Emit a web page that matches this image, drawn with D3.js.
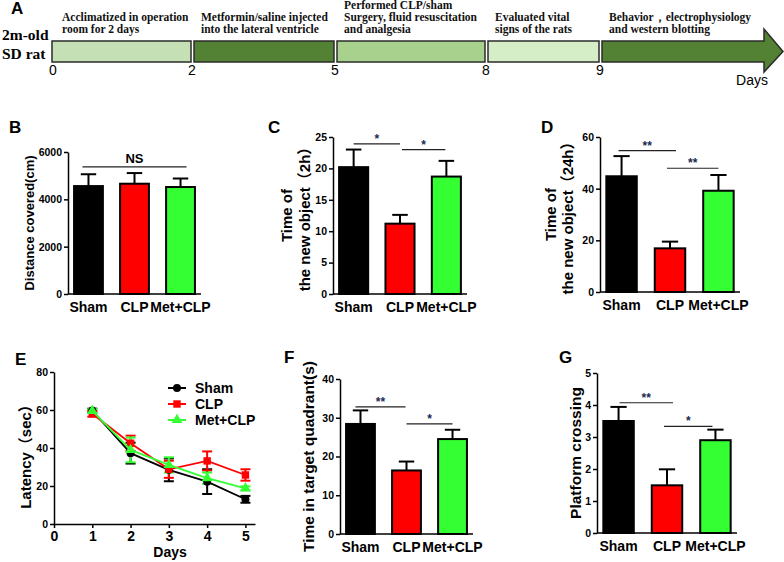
<!DOCTYPE html>
<html>
<head>
<meta charset="utf-8">
<script src="https://cdn.jsdelivr.net/npm/d3@7"></script>
<style>
  body { margin: 0; background: #fff; }
  svg text { font-family: "Liberation Sans", Arial, "Noto Sans CJK SC", sans-serif; font-weight: bold; }
  svg text.serif { font-family: "Liberation Serif", "Times New Roman", serif; }
  svg text.plain { font-weight: normal; }
</style>
</head>
<body>
<svg width="784" height="562"></svg>
<script>
// ---- data ----
const groups = ['Sham', 'CLP', 'Met+CLP'];
const groupColors = ['#000000', '#ff0000', '#33ff33'];

const distanceMean = [4560, 4660, 4520];
const distanceSem = [500, 450, 360];

const object2hMean = [20.2, 11.2, 18.7];
const object2hSem = [2.8, 1.4, 2.5];

const object24hMean = [44.8, 16.9, 39.2];
const object24hSem = [7.8, 2.6, 6.1];

const quadrantMean = [28.4, 16.4, 24.5];
const quadrantSem = [3.5, 2.3, 2.4];

const crossingMean = [3.5, 1.49, 2.9];
const crossingSem = [0.44, 0.5, 0.33];

const days = [1, 2, 3, 4, 5];
const latencySham = [59.7, 37.3, 28.5, 22.3, 13.0];
const latencyShamSem = [1.0, 5.5, 6.0, 6.5, 1.8];
const latencyCLP = [58.0, 42.5, 28.8, 33.2, 25.8];
const latencyCLPSem = [1.5, 4.0, 4.5, 5.0, 3.0];
const latencyMet = [59.5, 39.0, 31.1, 24.1, 18.8];
const latencyMetSem = [1.0, 6.5, 4.0, 3.0, 1.0];

const timelineDays = [0, 2, 5, 8, 9];
const stepLabels = [
  ['Acclimatized in operation', 'room for 2 days'],
  ['Metformin/saline injected', 'into the lateral ventricle'],
  ['Performed CLP/sham', 'Surgery, fluid resuscitation', 'and analgesia'],
  ['Evaluated vital', 'signs of the rats'],
  ['Behavior，electrophysiology', 'and western blotting']
];
const stepColors = ['#c5e0b4', '#548235', '#a9d18e', '#d6eec8', '#548235'];

const svg = d3.select('svg');

// ---- panel A: timeline ----
const tx = d3.scaleLinear().domain([0, 2, 5, 8, 9, 10]).range([52, 191, 334, 485, 599, 764]);
const boxTop = 41, boxBottom = 62;
const tl = svg.append('g');

stepLabels.forEach((lines, i) => {
  const start = timelineDays[i];
  const end = i < timelineDays.length - 1 ? timelineDays[i + 1] : 10;
  const x0 = tx(start) + (i > 0 ? 3 : 0);
  const x1 = tx(end);
  if (i < timelineDays.length - 1) {
    tl.append('rect')
      .attr('x', x0).attr('y', boxTop)
      .attr('width', x1 - x0).attr('height', boxBottom - boxTop)
      .attr('fill', stepColors[i]).attr('stroke', '#2b2b2b').attr('stroke-width', 1.5);
  } else {
    const mid = (boxTop + boxBottom) / 2;
    tl.append('path')
      .attr('d', `M${x0},${boxTop}H${x1}V29L783,${mid}L${x1},72V${boxBottom}H${x0}Z`)
      .attr('fill', stepColors[i]).attr('stroke', '#2b2b2b').attr('stroke-width', 1.5);
  }
  const n = lines.length;
  lines.forEach((t, j) => {
    tl.append('text').attr('class', 'serif')
      .attr('x', tx(start) + 10)
      .attr('y', 33 - (n - 1 - j) * 12)
      .attr('font-size', 11.5)
      .attr('fill', '#111')
      .text(t);
  });
});

tl.selectAll('.tday').data(timelineDays).enter().append('text')
  .attr('class', 'plain')
  .attr('x', d => tx(d) + 1).attr('y', 75)
  .attr('text-anchor', 'middle').attr('font-size', 14)
  .text(d => d);
tl.append('text').attr('class', 'plain').attr('x', 752).attr('y', 85)
  .attr('text-anchor', 'middle').attr('font-size', 14).text('Days');
tl.append('text').attr('class', 'serif').attr('x', 2).attr('y', 40)
  .attr('font-size', 15.5).text('2m-old');
tl.append('text').attr('class', 'serif').attr('x', 2).attr('y', 59)
  .attr('font-size', 15.5).text('SD rat');

// ---- panel letters ----
const letters = [['A', 11, 14], ['B', 9, 133], ['C', 268, 133], ['D', 541, 133],
                 ['E', 15, 365], ['F', 284, 363], ['G', 559, 363]];
svg.selectAll('.letter').data(letters).enter().append('text')
  .attr('x', d => d[1]).attr('y', d => d[2]).attr('font-size', 17).text(d => d[0]);

// ---- bar panels ----
function styleAxis(g, fontSize) {
  g.select('.domain').attr('stroke', '#000').attr('stroke-width', 1.5);
  g.selectAll('.tick line').attr('stroke', '#000').attr('stroke-width', 1.5);
  g.selectAll('.tick text').attr('font-size', fontSize).attr('font-weight', 'bold')
    .attr('font-family', '"Liberation Sans", Arial, sans-serif').attr('fill', '#000');
}

function barPanel(o) {
  const x = d3.scaleBand().domain(groups).range([o.left, o.right])
    .paddingInner(0.33).paddingOuter(0.11);
  const y = d3.scaleLinear().domain([0, o.max]).range([o.bottom, o.top]);
  const g = svg.append('g');

  // error bars (upper only)
  groups.forEach((gr, i) => {
    const cx = x(gr) + x.bandwidth() / 2;
    const top = o.mean[i] + o.sem[i];
    g.append('line').attr('x1', cx).attr('x2', cx)
      .attr('y1', y(o.mean[i])).attr('y2', y(top))
      .attr('stroke', '#000').attr('stroke-width', 2);
    g.append('line').attr('x1', cx - x.bandwidth() / 4).attr('x2', cx + x.bandwidth() / 4)
      .attr('y1', y(top)).attr('y2', y(top))
      .attr('stroke', '#000').attr('stroke-width', 2);
  });

  g.selectAll('.bar').data(groups).enter().append('rect')
    .attr('x', d => x(d) + 1)
    .attr('width', x.bandwidth() - 2)
    .attr('y', (d, i) => y(o.mean[i]))
    .attr('height', (d, i) => y(0) - y(o.mean[i]))
    .attr('fill', (d, i) => groupColors[i])
    .attr('stroke', '#000').attr('stroke-width', 2);

  const ya = g.append('g').attr('transform', `translate(${o.left},0)`)
    .call(d3.axisLeft(y).tickValues(o.ticks).tickFormat(d3.format('d'))
      .tickSize(4).tickSizeOuter(0).tickPadding(2));
  styleAxis(ya, 10.5);
  g.append('line').attr('x1', o.left).attr('x2', o.right)
    .attr('y1', y(0)).attr('y2', y(0)).attr('stroke', '#000').attr('stroke-width', 1.5);

  g.selectAll('.cat').data(groups).enter().append('text')
    .attr('x', d => x(d) + x.bandwidth() / 2)
    .attr('y', o.bottom + 18)
    .attr('text-anchor', 'middle').attr('font-size', 14)
    .text(d => d);

  // significance brackets
  o.sig.forEach(s => {
    const xa = x(groups[s.from]) + x.bandwidth() / 2 + (s.padA || 0);
    const xb = x(groups[s.to]) + x.bandwidth() / 2 + (s.padB || 0);
    g.append('line').attr('x1', xa).attr('x2', xb)
      .attr('y1', y(s.at)).attr('y2', y(s.at))
      .attr('stroke', '#222').attr('stroke-width', 1.2);
    g.append('text').attr('x', (xa + xb) / 2).attr('y', y(s.at) - (s.label === 'NS' ? 4 : 1))
      .attr('text-anchor', 'middle').attr('font-size', s.label === 'NS' ? 13 : 12)
      .attr('fill', s.label === 'NS' ? '#000' : '#1a2a50')
      .text(s.label);
  });

  // y title (one or two lines)
  const cy = (o.top + o.bottom) / 2;
  o.title.forEach((t, j) => {
    g.append('text')
      .attr('transform', `translate(${o.titleX + j * o.titleGap},${cy}) rotate(-90)`)
      .attr('text-anchor', 'middle').attr('font-size', o.titleSize)
      .text(t);
  });
}

barPanel({ left: 68, right: 201, top: 152, bottom: 294, max: 6000, ticks: [0, 2000, 4000, 6000],
  mean: distanceMean, sem: distanceSem,
  sig: [{ from: 0, to: 2, at: 5370, label: 'NS', padA: -6, padB: 6 }],
  title: ['Distance covered(cm)'], titleX: 34, titleGap: 0, titleSize: 13 });

barPanel({ left: 333, right: 467, top: 137, bottom: 294, max: 25, ticks: [0, 5, 10, 15, 20, 25],
  mean: object2hMean, sem: object2hSem,
  sig: [{ from: 0, to: 1, at: 23.9, label: '*' }, { from: 1, to: 2, at: 23.0, label: '*', padA: 2, padB: -1 }],
  title: ['Time of', 'the new object（2h）'], titleX: 292, titleGap: 18, titleSize: 15 });

barPanel({ left: 600, right: 740, top: 137, bottom: 292, max: 60, ticks: [0, 20, 40, 60],
  mean: object24hMean, sem: object24hSem,
  sig: [{ from: 0, to: 1, at: 54.7, label: '**', padA: -3, padB: 6 }, { from: 1, to: 2, at: 47.9, label: '**', padA: -3 }],
  title: ['Time of', 'the new object（24h）'], titleX: 556, titleGap: 17, titleSize: 15 });

barPanel({ left: 340, right: 473, top: 379, bottom: 534, max: 40, ticks: [0, 10, 20, 30, 40],
  mean: quadrantMean, sem: quadrantSem,
  sig: [{ from: 0, to: 1, at: 32.8, label: '**', padA: -5, padB: -1 }, { from: 1, to: 2, at: 28.4, label: '*' }],
  title: ['Time in target quadrant(s)'], titleX: 314, titleGap: 0, titleSize: 15.5 });

barPanel({ left: 597, right: 737, top: 373, bottom: 533, max: 5, ticks: [0, 1, 2, 3, 4, 5],
  mean: crossingMean, sem: crossingSem,
  sig: [{ from: 0, to: 1, at: 4.07, label: '**', padA: 1, padB: 6 }, { from: 1, to: 2, at: 3.33, label: '*', padA: -3, padB: -3 }],
  title: ['Platform crossing'], titleX: 581, titleGap: 0, titleSize: 15.5 });

// ---- panel E: line chart ----
const series = [
  { name: 'Sham', mean: latencySham, sem: latencyShamSem, color: '#000000', shape: d3.symbolCircle, size: 50 },
  { name: 'CLP', mean: latencyCLP, sem: latencyCLPSem, color: '#ff0000', shape: d3.symbolSquare, size: 55 },
  { name: 'Met+CLP', mean: latencyMet, sem: latencyMetSem, color: '#33ff33', shape: d3.symbolTriangle, size: 50 }
];
const ex = d3.scaleLinear().domain([0, 5.25]).range([54, 255]);
const ey = d3.scaleLinear().domain([0, 80]).range([524, 372]);
const eg = svg.append('g');

series.forEach(s => {
  days.forEach((d, i) => {
    const lo = s.mean[i] - s.sem[i], hi = s.mean[i] + s.sem[i];
    eg.append('line').attr('x1', ex(d)).attr('x2', ex(d)).attr('y1', ey(lo)).attr('y2', ey(hi))
      .attr('stroke', s.color).attr('stroke-width', 2);
    [lo, hi].forEach(v => eg.append('line')
      .attr('x1', ex(d) - 5).attr('x2', ex(d) + 5).attr('y1', ey(v)).attr('y2', ey(v))
      .attr('stroke', s.color).attr('stroke-width', 2));
  });
});
series.forEach(s => {
  eg.append('path').datum(s.mean)
    .attr('d', d3.line().x((v, i) => ex(days[i])).y(v => ey(v)))
    .attr('fill', 'none').attr('stroke', s.color).attr('stroke-width', 1.8);
  eg.selectAll(null).data(s.mean).enter().append('path')
    .attr('transform', (v, i) => `translate(${ex(days[i])},${ey(v)})`)
    .attr('d', d3.symbol().type(s.shape).size(s.size))
    .attr('fill', s.color);
});

const exa = eg.append('g').attr('transform', 'translate(0,524)')
  .call(d3.axisBottom(ex).tickValues([0, 1, 2, 3, 4, 5]).tickFormat(d3.format('d'))
    .tickSize(4).tickSizeOuter(0).tickPadding(3));
styleAxis(exa, 14);
const eya = eg.append('g').attr('transform', 'translate(54,0)')
  .call(d3.axisLeft(ey).tickValues([0, 20, 40, 60, 80]).tickFormat(d3.format('d'))
    .tickSize(4).tickSizeOuter(0).tickPadding(2));
styleAxis(eya, 10.5);
eg.append('text').attr('x', 170).attr('y', 557).attr('text-anchor', 'middle').attr('font-size', 14).text('Days');
eg.append('text').attr('transform', 'translate(31,453) rotate(-90)')
  .attr('text-anchor', 'middle').attr('font-size', 15).text('Latency（sec）');

// legend
series.forEach((s, i) => {
  const ly = 388 + i * 16;
  eg.append('line').attr('x1', 168).attr('x2', 186).attr('y1', ly).attr('y2', ly)
    .attr('stroke', s.color).attr('stroke-width', 2);
  eg.append('path').attr('transform', `translate(177,${ly})`)
    .attr('d', d3.symbol().type(s.shape).size(s.size)).attr('fill', s.color);
  eg.append('text').attr('x', 195).attr('y', ly + 5).attr('font-size', 14).text(s.name);
});
</script>
</body>
</html>
